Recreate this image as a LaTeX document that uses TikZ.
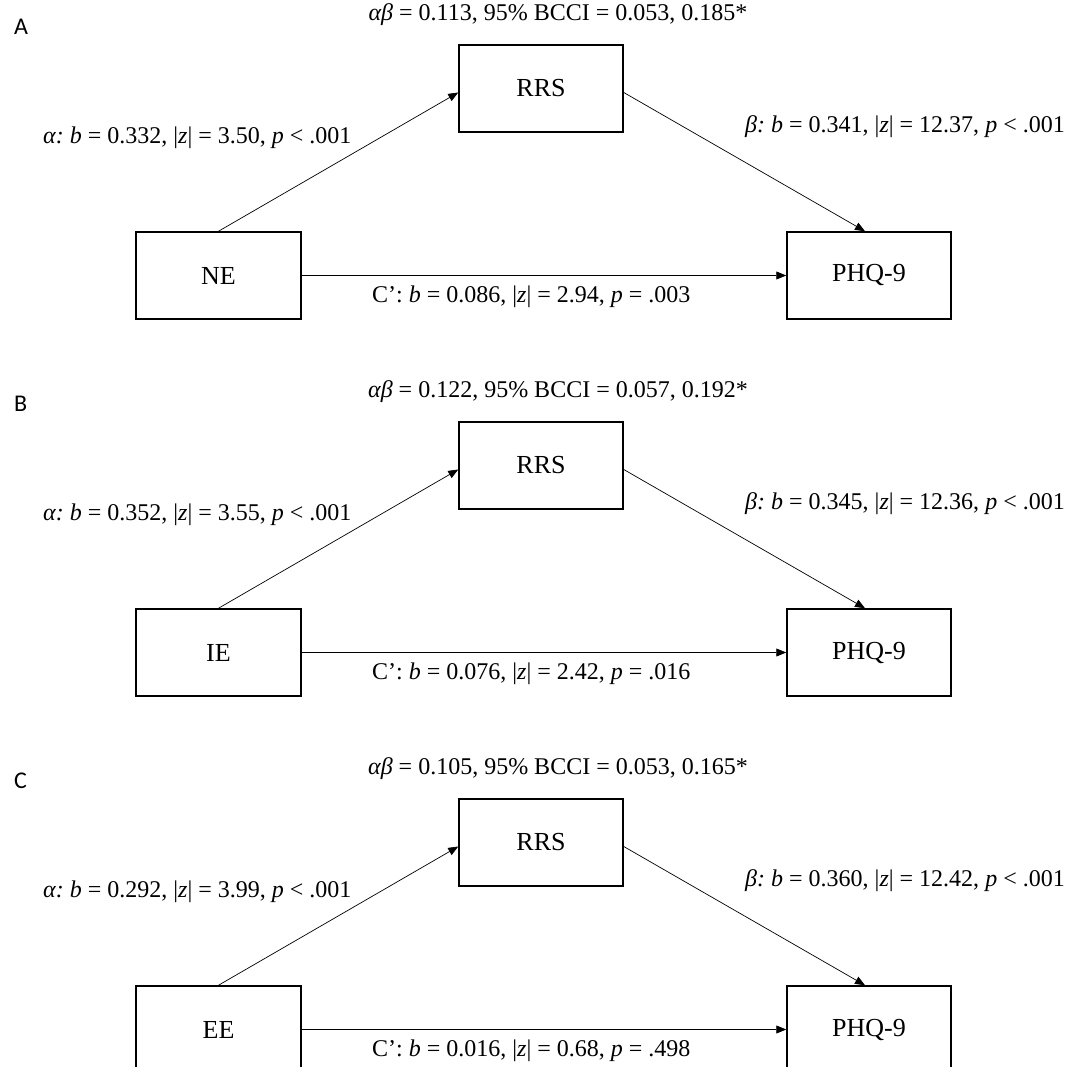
\documentclass[tikz,border=0pt]{standalone}
\usepackage{fontspec}
\setmainfont{Liberation Serif}
\newfontfamily\panelfont{Carlito}
\usetikzlibrary{arrows.meta,positioning}

\begin{document}
\begin{tikzpicture}[
  x=1pt, y=-1pt,
  font=\fontsize{26}{30}\selectfont,
  box/.style={draw, line width=1.5pt, minimum width=164pt, minimum height=87pt, inner sep=0pt},
  arrow/.style={-{Triangle[length=10pt,width=8pt]}, line width=0.7pt},
  coef/.style={inner sep=0pt, font=\fontsize{24}{28}\selectfont},
  panel/.style={font=\panelfont\fontsize{24}{28}\selectfont, inner sep=0pt}
]
  \path[use as bounding box, clip] (0,0) rectangle (1088,1067);

  % one mediation model per panel
  \foreach \pan/\off/\src/\ind/\lo/\hi/\ab/\az/\bb/\bz/\cb/\cz/\cp in {
      A/0/NE/0.113/0.053/0.185/0.332/3.50/0.341/12.37/0.086/2.94/.003,
      B/377/IE/0.122/0.057/0.192/0.352/3.55/0.345/12.36/0.076/2.42/.016,
      C/754/EE/0.105/0.053/0.165/0.292/3.99/0.360/12.42/0.016/0.68/.498}
  {
    \node[panel, anchor=west] (lab\pan) at (14, 27+\off) {\pan};

    \node[box] (rrs\pan) at (541, 88.5+\off) {RRS};
    \node[box, minimum width=165pt] (src\pan) at (218.5, 275.5+\off) {\src};
    \node[box] (phq\pan) at (869, 275.5+\off) {PHQ-9};

    \node[coef] (ind\pan) at (558, 15+\off)
      {\textit{αβ} = \ind, 95\% BCCI = \lo, \hi*};
    \node[coef, anchor=west] (alpha\pan) at (43, 138+\off)
      {\textit{α:\hspace{-0.08em} b} = \ab, |\textit{z}| = \az, \textit{p} < .001};
    \node[coef, anchor=west] (beta\pan) at (745, 127+\off)
      {\textit{β:\hspace{-0.08em} b} = \bb, |\textit{z}| = \bz, \textit{p} < .001};
    \node[coef, anchor=west] (dir\pan) at (372, 297+\off)
      {C’: \textit{b} = \cb, |\textit{z}| = \cz, \textit{p} = \cp};

    \draw[arrow] (src\pan.north) -- ([yshift=-4pt]rrs\pan.west);
    \draw[arrow] ([yshift=-4pt]rrs\pan.east) -- ([xshift=-4pt]phq\pan.north);
    \draw[arrow] (src\pan.east) -- (phq\pan.west);
  }
\end{tikzpicture}
\end{document}
